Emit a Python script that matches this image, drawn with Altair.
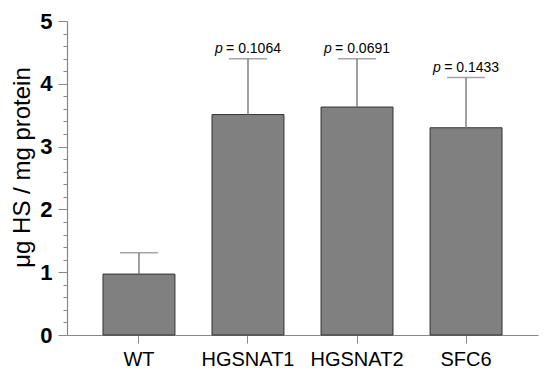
import altair as alt
import pandas as pd

groups = ["WT", "HGSNAT1", "HGSNAT2", "SFC6"]
means = [0.97, 3.51, 3.63, 3.30]
upper = [1.31, 4.40, 4.40, 4.10]
pvals = ["", "0.1064", "0.0691", "0.1433"]
y_ticks = [round(i * 0.2, 1) for i in range(26)]

df = pd.DataFrame({"group": groups, "mean": means, "upper": upper, "p": pvals})
df["ptext"] = df["p"].apply(lambda s: ("= " + s) if s else "")
df["plabel"] = df["p"].apply(lambda s: "p" if s else "")

FONT = "Liberation Sans"
GRAY = "#888888"

x = alt.X(
    "group:N",
    sort=groups,
    scale=alt.Scale(paddingInner=0.34, paddingOuter=0.33),
    axis=alt.Axis(
        title=None, labelAngle=0, labelFont=FONT, labelFontSize=20, labelColor="black",
        domainColor=GRAY, tickColor=GRAY, tickSize=8, labelPadding=6, domainWidth=1.2,
    ),
)
y = alt.Y(
    "mean:Q",
    scale=alt.Scale(domain=[0, 5], nice=False),
    axis=alt.Axis(
        title="μg HS / mg protein", titleFont=FONT, titleFontSize=24, titleFontWeight="normal",
        titleColor="black", titlePadding=5, titleY=146,
        values=y_ticks, tickCount=40,
        labelExpr="datum.value % 1 === 0 ? format(datum.value, 'd') : ''",
        labelOverlap=False,
        labelFont=FONT, labelFontSize=22, labelFontWeight="bold", labelColor="black",
        labelPadding=6,
        tickSize={"condition": {"test": "datum.value % 1 === 0", "value": 9}, "value": 4},
        tickColor=GRAY, domainColor=GRAY, grid=False, domainWidth=1.2,
    ),
)

base = alt.Chart(df)

bars = base.mark_bar(color="#808080", stroke="#333333", strokeWidth=1).encode(x=x, y=y)
stems = base.mark_rule(color="#808080", strokeWidth=1.5).encode(
    x=alt.X("group:N", sort=groups), y="mean:Q", y2="upper:Q"
)
caps = base.mark_tick(color="#808080", thickness=1.5, size=38, orient="horizontal").encode(
    x=alt.X("group:N", sort=groups), y="upper:Q"
)
ptxt = base.mark_text(font=FONT, fontSize=14, align="right", baseline="bottom", dx=33, dy=-3).encode(
    x=alt.X("group:N", sort=groups), y="upper:Q", text="ptext:N"
)
pital = base.mark_text(font=FONT, fontSize=14, fontStyle="italic", align="left", baseline="bottom", dx=-33, dy=-3).encode(
    x=alt.X("group:N", sort=groups), y="upper:Q", text="plabel:N"
)

chart = alt.layer(bars, stems, caps, ptxt, pital).properties(
    width=471, height=314,
    autosize=alt.AutoSizeParams(type="none"),
    padding={"left": 59, "top": 13, "right": 4, "bottom": 41},
).configure_view(stroke=None)

chart.save("out.html", embed_options={"renderer": "svg", "actions": False})
